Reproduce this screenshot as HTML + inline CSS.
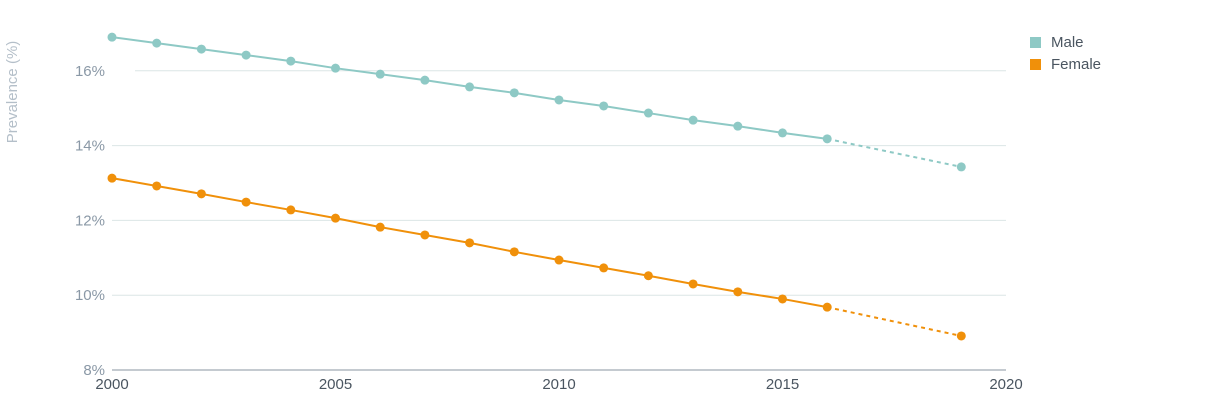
<!DOCTYPE html>
<html><head><meta charset="utf-8"><style>
body{margin:0;background:#fff;font-family:"Liberation Sans",sans-serif;}
svg text{font-family:"Liberation Sans",sans-serif;}
</style></head><body>
<svg id="chart" width="1230" height="403" viewBox="0 0 1230 403" xmlns="http://www.w3.org/2000/svg">
<g id="grid"></g>
<g id="yticks"></g>
<g id="xticks"></g>
<text transform="translate(17,92) rotate(-90)" text-anchor="middle" font-size="15" fill="#b4bfc9">Prevalence (%)</text>
<g id="series"></g>
<g>
<g><rect x="1030" y="37" width="11" height="11" fill="#8ec9c5"/><text x="1051" y="47" font-size="15" fill="#4a5560">Male</text></g>
<g><rect x="1030" y="59" width="11" height="11" fill="#f0900a"/><text x="1051" y="69" font-size="15" fill="#4a5560">Female</text></g>
</g>
</svg>
<script>
const years=[2000,2001,2002,2003,2004,2005,2006,2007,2008,2009,2010,2011,2012,2013,2014,2015,2016];
const maleValues=[16.9,16.74,16.58,16.42,16.26,16.07,15.91,15.75,15.57,15.41,15.22,15.06,14.87,14.68,14.52,14.34,14.18];
const femaleValues=[13.13,12.92,12.71,12.49,12.28,12.06,11.82,11.61,11.40,11.16,10.94,10.73,10.52,10.30,10.09,9.90,9.68];
const projYear=2019;
const maleProj=13.43;
const femaleProj=8.91;
const yTicks=[8,10,12,14,16];
const xTicks=[2000,2005,2010,2015,2020];
const NS="http://www.w3.org/2000/svg";
const x=v=>112+(v-2000)*44.7;
const y=v=>370-(v-8)*37.4;
function mk(tag,attrs,parent){const e=document.createElementNS(NS,tag);for(const k in attrs)e.setAttribute(k,attrs[k]);parent.appendChild(e);return e;}
const grid=document.getElementById('grid'),yt=document.getElementById('yticks'),xt=document.getElementById('xticks'),ser=document.getElementById('series');
yTicks.forEach(t=>{
 const l=mk('line',{x1:t===16?135:112,x2:1006,y1:y(t),y2:y(t),stroke:t===8?'#8a96a0':'#dbe6e6','stroke-width':1},grid);
 
 
 const tx=mk('text',{x:105,y:y(t)+5,'text-anchor':'end','font-size':15,fill:'#8a98a6'},yt);
 tx.textContent=t+'%';
 
 
});
xTicks.forEach(t=>{
 const tx=mk('text',{x:x(t),y:389,'text-anchor':'middle','font-size':15,fill:'#4a5560'},xt);
 tx.textContent=t;
 
 
});
function draw(vals,proj,color,name){
 const pts=years.map((yr,i)=>x(yr)+','+y(vals[i])).join(' ');
 const pl=mk('polyline',{points:pts,fill:'none',stroke:color,'stroke-width':2},ser);
 
 
 const last=years.length-1;
 const d=mk('line',{x1:x(years[last]),y1:y(vals[last]),x2:x(projYear),y2:y(proj),stroke:color,'stroke-width':2,'stroke-dasharray':'4,4'},ser);
 
 
 years.forEach((yr,i)=>{
  const c=mk('circle',{cx:x(yr),cy:y(vals[i]),r:4.5,fill:color},ser);
  
  
 });
 const c=mk('circle',{cx:x(projYear),cy:y(proj),r:4.5,fill:color},ser);
 
 
}
draw(maleValues,maleProj,'#8ec9c5','male');
draw(femaleValues,femaleProj,'#f0900a','female');
</script>
</body></html>
